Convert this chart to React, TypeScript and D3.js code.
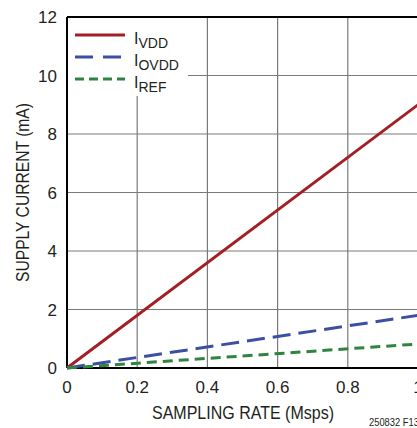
import React from "react";
import * as d3 from "d3";

const xTicks = [0, 0.2, 0.4, 0.6, 0.8, 1];
const xTickLabels = ["0", "0.2", "0.4", "0.6", "0.8", "1"];
const yTicks = [0, 2, 4, 6, 8, 10, 12];
const rate = [0, 1];
const iVDD = [0, 9.0];
const iOVDD = [0, 1.8];
const iREF = [0, 0.82];
const seriesNames = ["VDD", "OVDD", "REF"];
const colors = ["#a31f24", "#3b50a3", "#2f8540"];
const dashes = ["none", "18 8", "10 6"];

export default function App() {
  const W = 417, H = 428;
  const m = { left: 67, top: 17, bottom: 368, right: 418 };
  const x = d3.scaleLinear().domain([0, 1]).range([m.left, m.right]);
  const y = d3.scaleLinear().domain([0, 12]).range([m.bottom, m.top]);
  const line = d3.line<[number, number]>().x(d => x(d[0])).y(d => y(d[1]));
  const series = [iVDD, iOVDD, iREF].map(v => rate.map((r, i) => [r, v[i]] as [number, number]));
  const font = "'Liberation Sans', Arial, sans-serif";
  const ink = "#231f20";
  return (
    <svg width={W} height={H} style={{ position: "absolute", left: 0, top: 0, background: "#fff" }} fontFamily={font}>
      <rect x={0} y={0} width={W} height={H} fill="#fff" />
      {xTicks.slice(1, -1).map(t => (
        <line key={"gx" + t} x1={x(t)} x2={x(t)} y1={y(12)} y2={y(0)} stroke="#7a7a7a" strokeWidth={1.2} />
      ))}
      {yTicks.slice(1, -1).map(t => (
        <line key={"gy" + t} x1={x(0)} x2={x(1)} y1={y(t)} y2={y(t)} stroke="#7a7a7a" strokeWidth={1.2} />
      ))}
      {/* legend background */}
      <rect x={x(0) + 1} y={y(12) + 1} width={120} height={78} fill="#fff" />
      <line x1={x(0)} x2={x(1)} y1={y(12)} y2={y(12)} stroke="#000" strokeWidth={2} />
      <line x1={x(0)} x2={x(0)} y1={y(12)} y2={y(0)} stroke="#000" strokeWidth={2} />
      <line x1={x(0)} x2={x(1)} y1={y(0)} y2={y(0)} stroke="#000" strokeWidth={2} />
      {series.map((s, i) => (
        <path key={i} d={line(s) || ""} fill="none" stroke={colors[i]} strokeWidth={3} strokeDasharray={dashes[i]} />
      ))}
      {seriesNames.map((n, i) => (
        <g key={n}>
          <line x1={75} x2={125} y1={35 + i * 22} y2={35 + i * 22} stroke={colors[i]} strokeWidth={3} strokeDasharray={dashes[i] === "none" ? "none" : i === 1 ? "18 10" : "9 5"} />
          <text x={134} y={44 + i * 22} fontSize={16} fill={ink}>
            I<tspan fontSize={14} dy={4}>{n}</tspan>
          </text>
        </g>
      ))}
      {yTicks.map(t => (
        <text key={"ty" + t} x={57} y={y(t) + 6} fontSize={17} textAnchor="end" fill={ink}>{t}</text>
      ))}
      {xTicks.map((t, i) => (
        <text key={"tx" + t} x={x(t)} y={393} fontSize={17} textAnchor="middle" fill={ink}>{xTickLabels[i]}</text>
      ))}
      <text x={152} y={419} fontSize={17.5} textLength={182} lengthAdjust="spacingAndGlyphs" fill={ink}>SAMPLING RATE (Msps)</text>
      <text transform={`translate(29,282) rotate(-90)`} fontSize={17.5} textLength={179} lengthAdjust="spacingAndGlyphs" fill={ink}>SUPPLY CURRENT (mA)</text>
      <text x={369} y={426} fontSize={10.5} textLength={50} lengthAdjust="spacingAndGlyphs" fill={ink}>250832 F13</text>
    </svg>
  );
}
